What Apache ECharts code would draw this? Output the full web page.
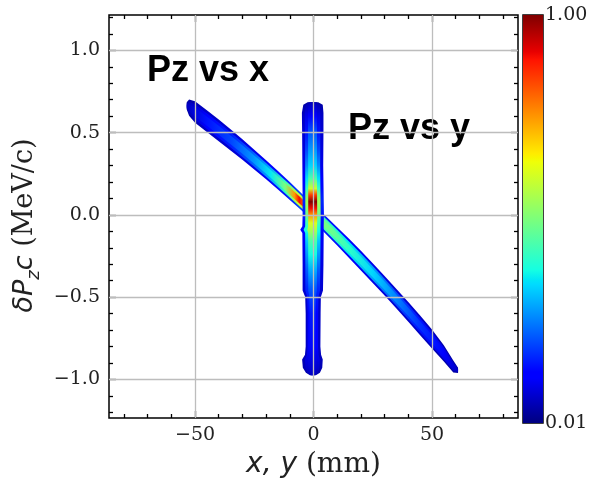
<!DOCTYPE html>
<html><head><meta charset="utf-8">
<script src="https://cdn.jsdelivr.net/npm/echarts@6/dist/echarts.min.js"></script>
<style>html,body{margin:0;padding:0;background:#fff}#c{width:608px;height:484px}</style>
</head><body><div id="c"></div>
<script>
// ---------- axes ----------
const xRange = [-86.3, 86.3];
const yRange = [-1.235, 1.215];
const xMajorTicks = [-50, 0, 50];
const xMinorTicks = [-80, -70, -60, -40, -30, -20, -10, 10, 20, 30, 40, 60, 70, 80];
const yMajorTicks = [-1.0, -0.5, 0.0, 0.5, 1.0];
const yMinorTicks = [-1.2, -1.1, -0.9, -0.8, -0.7, -0.6, -0.4, -0.3, -0.2, -0.1, 0.1, 0.2, 0.3, 0.4, 0.6, 0.7, 0.8, 0.9, 1.1, 1.2];
const cbarRange = [0.01, 1.00];
const cbarLabelValues = [0.01, 1.00];
const cbarTicks = [0.208, 0.406, 0.604, 0.802];

// ---------- "Pz vs x" band (diagonal) ----------
const pzxX      = [-53.5, -52.5, -50, -45, -40, -35, -30, -25, -20, -15, -10, -5, 0, 5, 10, 15, 20, 25, 30, 35, 40, 45, 50, 55, 59, 61];
const pzxCenter = [0.662, 0.652, 0.625, 0.570, 0.514, 0.456, 0.397, 0.336, 0.274, 0.210, 0.145, 0.078, 0.01, -0.060, -0.131, -0.204, -0.278, -0.354, -0.431, -0.510, -0.590, -0.672, -0.755, -0.842, -0.922, -0.945];
const pzxHalf   = [0.022, 0.05, 0.065, 0.066, 0.066, 0.064, 0.062, 0.06, 0.058, 0.056, 0.054, 0.052, 0.052, 0.054, 0.056, 0.058, 0.06, 0.06, 0.06, 0.06, 0.06, 0.06, 0.058, 0.05, 0.036, 0.016];
const pzxDensX  = [-53, -45, -35, -25, -18, -12, -8, -6, -4, 0, 4, 8, 15, 25, 35, 45, 55, 61];
const pzxRim    = [0.04, 0.07, 0.08, 0.10, 0.12, 0.15, 0.18, 0.20, 0.20, 0.16, 0.16, 0.15, 0.12, 0.10, 0.08, 0.07, 0.05, 0.04];
const pzxMid    = [0.06, 0.12, 0.16, 0.23, 0.30, 0.42, 0.55, 0.60, 0.55, 0.45, 0.45, 0.42, 0.36, 0.29, 0.21, 0.15, 0.11, 0.06];
const pzxCore   = [0.07, 0.15, 0.20, 0.28, 0.36, 0.50, 0.75, 0.90, 0.80, 0.55, 0.50, 0.48, 0.41, 0.34, 0.26, 0.18, 0.13, 0.07];

// ---------- "Pz vs y" band (vertical) ----------
const pzyCenterX = -0.5;
const pzyY     = [0.685, 0.67, 0.62, 0.5, 0.3, 0.1, 0.0, -0.07, -0.09, -0.11, -0.3, -0.46, -0.5, -0.6, -0.8, -0.85, -0.88, -0.93, -0.96, -0.975];
const pzyLeft  = [-2.5, -4.3, -4.9, -4.8, -4.7, -4.6, -4.6, -4.7, -5.6, -4.7, -4.6, -4.6, -3.5, -3.3, -3.3, -3.6, -4.8, -4.5, -3.2, -1.5];
const pzyRight = [2.0, 3.9, 4.2, 4.2, 4.1, 4.3, 4.4, 4.3, 4.3, 4.3, 4.2, 4.0, 3.1, 3.0, 2.9, 3.2, 3.9, 3.7, 2.7, 1.0];
const pzyDensY = [0.685, 0.6, 0.5, 0.4, 0.3, 0.22, 0.16, 0.12, 0.08, 0.04, 0.0, -0.05, -0.1, -0.16, -0.24, -0.34, -0.45, -0.6, -0.8, -0.975];
const pzyRim   = [0.04, 0.07, 0.08, 0.09, 0.10, 0.12, 0.14, 0.16, 0.17, 0.16, 0.15, 0.14, 0.12, 0.11, 0.10, 0.09, 0.08, 0.07, 0.07, 0.05];
const pzyMid   = [0.05, 0.10, 0.15, 0.20, 0.27, 0.35, 0.42, 0.50, 0.55, 0.52, 0.48, 0.43, 0.38, 0.33, 0.28, 0.22, 0.17, 0.13, 0.12, 0.06];
const pzyCore  = [0.06, 0.13, 0.22, 0.28, 0.34, 0.45, 0.60, 0.85, 1.00, 0.90, 0.75, 0.62, 0.55, 0.45, 0.38, 0.30, 0.22, 0.16, 0.14, 0.07];

const annotations = ['Pz vs x', 'Pz vs y'];

// ---------- styles ----------
const LAYER_FRACTIONS = [1.0, 0.72, 0.42];
const SERIF = '"DejaVu Serif", serif';
const SANS = '"DejaVu Sans", sans-serif';
const TEXT = '#222';
const JET = {
  r: [[0, 0], [0.35, 0], [0.66, 1], [0.89, 1], [1, 0.5]],
  g: [[0, 0], [0.125, 0], [0.375, 1], [0.64, 1], [0.91, 0], [1, 0]],
  b: [[0, 0.5], [0.11, 1], [0.34, 1], [0.65, 0], [1, 0]]
};
function seg(pts, t) {
  for (let i = 1; i < pts.length; i++) {
    if (t <= pts[i][0]) {
      const [t0, v0] = pts[i - 1], [t1, v1] = pts[i];
      return v0 + (v1 - v0) * (t - t0) / (t1 - t0);
    }
  }
  return pts[pts.length - 1][1];
}
function jetT(t) {
  t = Math.max(0, Math.min(1, t));
  const c = k => Math.round(255 * seg(JET[k], t));
  return 'rgb(' + c('r') + ',' + c('g') + ',' + c('b') + ')';
}
function jet(v) { return jetT((v - cbarRange[0]) / (cbarRange[1] - cbarRange[0])); }
const minus = s => String(s).replace('-', '\u2212');

function pzxLayer(params, api) {
  const layer = api.value(0);
  const f = LAYER_FRACTIONS[layer];
  const top = [], bot = [];
  for (let i = 0; i < pzxX.length; i++) {
    top.push(api.coord([pzxX[i], pzxCenter[i] + pzxHalf[i] * f]));
    bot.push(api.coord([pzxX[i], pzxCenter[i] - pzxHalf[i] * f]));
  }
  const dens = [pzxRim, pzxMid, pzxCore][layer];
  const x0 = pzxX[0], x1 = pzxX[pzxX.length - 1];
  const p0 = api.coord([x0, 0]), p1 = api.coord([x1, 0]);
  const stops = pzxDensX.map((x, i) => ({ offset: Math.max(0, Math.min(1, (x - x0) / (x1 - x0))), color: jet(dens[i]) }));
  return { type: 'polygon', shape: { points: top.concat(bot.reverse()) },
    style: { fill: new echarts.graphic.LinearGradient(p0[0], 0, p1[0], 0, stops, true) } };
}
function pzyLayer(params, api) {
  const layer = api.value(0);
  const f = LAYER_FRACTIONS[layer];
  const left = [], right = [];
  for (let i = 0; i < pzyY.length; i++) {
    left.push(api.coord([pzyCenterX + (pzyLeft[i] - pzyCenterX) * f, pzyY[i]]));
    right.push(api.coord([pzyCenterX + (pzyRight[i] - pzyCenterX) * f, pzyY[i]]));
  }
  const dens = [pzyRim, pzyMid, pzyCore][layer];
  const y0 = pzyY[0], y1 = pzyY[pzyY.length - 1];
  const p0 = api.coord([0, y0]), p1 = api.coord([0, y1]);
  const stops = pzyDensY.map((y, i) => ({ offset: Math.max(0, Math.min(1, (y0 - y) / (y0 - y1))), color: jet(dens[i]) }));
  return { type: 'polygon', shape: { points: left.concat(right.reverse()) },
    style: { fill: new echarts.graphic.LinearGradient(0, p0[1], 0, p1[1], stops, true) } };
}
function cbarRender(params, api) {
  const a = api.coord([0, cbarRange[0]]), b = api.coord([1, cbarRange[1]]);
  const bps = [0, 0.11, 0.125, 0.34, 0.35, 0.375, 0.64, 0.65, 0.66, 0.89, 0.91, 1];
  const stops = bps.map(t => ({ offset: 1 - t, color: jetT(t) })).reverse();
  return { type: 'rect', shape: { x: a[0], y: b[1], width: b[0] - a[0], height: a[1] - b[1] },
    style: { fill: new echarts.graphic.LinearGradient(0, b[1], 0, a[1], stops, true) } };
}

const tickStyle = { color: '#000', width: 1.3 };
function xAx(pos, ticks, len, labels) {
  return { gridIndex: 0, type: 'value', min: xRange[0], max: xRange[1], position: pos,
    axisLine: { show: false, onZero: false }, splitLine: { show: false },
    axisTick: { show: true, inside: true, length: len, customValues: ticks, lineStyle: tickStyle },
    axisLabel: labels ? { show: true, customValues: ticks, formatter: v => minus(v), margin: 8,
      fontFamily: SERIF, fontSize: 19, color: TEXT } : { show: false } };
}
function yAx(pos, ticks, len, labels) {
  return { gridIndex: 0, type: 'value', min: yRange[0], max: yRange[1], position: pos,
    axisLine: { show: false, onZero: false }, splitLine: { show: false },
    axisTick: { show: true, inside: true, length: len, customValues: ticks, lineStyle: tickStyle },
    axisLabel: labels ? { show: true, customValues: ticks, formatter: v => minus(v.toFixed(1)), margin: 9,
      fontFamily: SERIF, fontSize: 19, color: TEXT } : { show: false } };
}
const richX = {
  m: { fontFamily: SANS, fontStyle: 'italic', fontSize: 28, lineHeight: 36, verticalAlign: 'middle', color: TEXT },
  r: { fontFamily: SERIF, fontSize: 28, lineHeight: 36, verticalAlign: 'middle', color: TEXT }
};
const richY = {
  m: { fontFamily: SANS, fontStyle: 'italic', fontSize: 27, lineHeight: 36, verticalAlign: 'middle', color: TEXT },
  s: { fontFamily: SANS, fontStyle: 'italic', fontSize: 18, lineHeight: 19, verticalAlign: 'bottom', color: TEXT },
  r: { fontFamily: SERIF, fontSize: 27, lineHeight: 36, verticalAlign: 'middle', color: TEXT }
};
const xAxes = [xAx('bottom', xMajorTicks, 7, true), xAx('bottom', xMinorTicks, 4, false),
  xAx('top', xMajorTicks, 7, false), xAx('top', xMinorTicks, 4, false)];
Object.assign(xAxes[0], { name: '{m|x, y}{r| (mm)}', nameLocation: 'middle', nameGap: 29, nameTextStyle: { rich: richX } });
const yAxes = [yAx('left', yMajorTicks, 7, true), yAx('left', yMinorTicks, 4, false),
  yAx('right', yMajorTicks, 7, false), yAx('right', yMinorTicks, 4, false)];
Object.assign(yAxes[0], { name: '{m|δP}{s|z}{m|c}{r| (MeV/c)}', nameLocation: 'middle', nameGap: 45,
  nameTextStyle: { rich: richY, padding: [0, 18, 0, 0] } });
xAxes.push({ gridIndex: 1, type: 'value', min: 0, max: 1, show: false });
yAxes.push({ gridIndex: 1, type: 'value', min: cbarRange[0], max: cbarRange[1], position: 'right',
  axisLine: { show: false, onZero: false }, splitLine: { show: false },
  axisTick: { show: true, inside: true, length: 5, customValues: cbarTicks, lineStyle: tickStyle },
  axisLabel: { show: true, customValues: cbarLabelValues, formatter: v => v.toFixed(2), margin: 2,
    fontFamily: SERIF, fontSize: 19, color: TEXT } });

const gridLines = xMajorTicks.map(v => ({ xAxis: v })).concat(yMajorTicks.map(v => ({ yAxis: v })));

const chart = echarts.init(document.getElementById('c'), null, { renderer: 'canvas' });
chart.setOption({
  animation: false,
  backgroundColor: '#fff',
  grid: [
    { left: 109, top: 15, width: 409, height: 408, show: true, borderColor: '#000', borderWidth: 1.5, backgroundColor: 'transparent' },
    { left: 523, top: 15, width: 20, height: 408, show: true, borderColor: '#000', borderWidth: 1.5, backgroundColor: 'transparent' }
  ],
  xAxis: xAxes,
  yAxis: yAxes,
  series: [
    { type: 'scatter', xAxisIndex: 0, yAxisIndex: 0, data: [], z: 1, silent: true,
      markLine: { silent: true, symbol: 'none', label: { show: false }, animation: false,
        lineStyle: { color: '#bdbdbd', width: 1.3, type: 'solid' }, emphasis: { disabled: true }, data: gridLines } },
    { type: 'custom', xAxisIndex: 0, yAxisIndex: 0, z: 2, silent: true, clip: true,
      data: [[0], [1], [2]], encode: { x: 0, y: 0 }, renderItem: pzxLayer },
    { type: 'custom', xAxisIndex: 0, yAxisIndex: 0, z: 3, silent: true, clip: true,
      data: [[0], [1], [2]], encode: { x: 0, y: 0 }, renderItem: pzyLayer },
    { type: 'custom', xAxisIndex: 4, yAxisIndex: 4, z: 2, silent: true,
      data: [[0]], encode: { x: 0, y: 0 }, renderItem: cbarRender }
  ],
  graphic: [
    { type: 'text', x: 147, y: 70.8, silent: true,
      style: { text: annotations[0], font: 'bold 36px "Liberation Sans", Arial, sans-serif', fill: '#000', align: 'left', verticalAlign: 'middle' } },
    { type: 'text', x: 348, y: 129.2, silent: true,
      style: { text: annotations[1], font: 'bold 36px "Liberation Sans", Arial, sans-serif', fill: '#000', align: 'left', verticalAlign: 'middle' } }
  ]
});
</script></body></html>
